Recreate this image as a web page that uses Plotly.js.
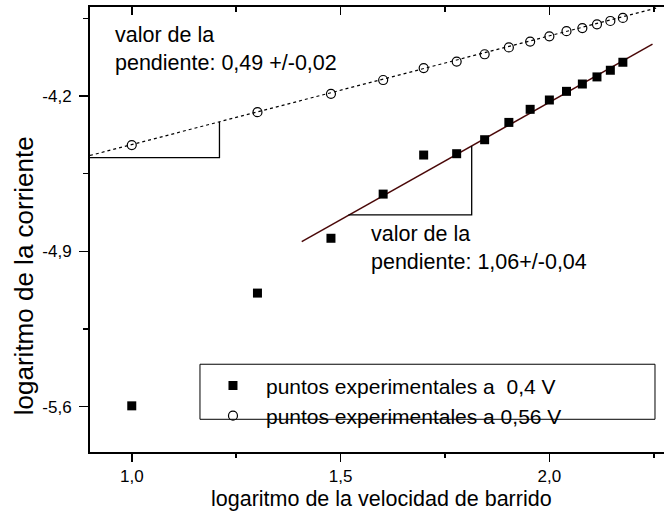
<!DOCTYPE html>
<html>
<head>
<meta charset="utf-8">
<script src="https://cdn.plot.ly/plotly-3.0.1.min.js"></script>
<style>
  html, body { margin: 0; padding: 0; background: #ffffff; }
  #chart { width: 664px; height: 515px; }
</style>
</head>
<body>
<div id="chart"></div>
<script>
// log10 of the scan rate (10 ... 150 mV/s)
const logRate = [1.000, 1.301, 1.477, 1.602, 1.699, 1.778, 1.845, 1.903, 1.954, 2.000, 2.041, 2.079, 2.114, 2.146, 2.176];
// log10 of the current measured at 0,4 V
const logCurrent04 = [-5.596, -5.088, -4.841, -4.642, -4.466, -4.460, -4.397, -4.319, -4.260, -4.218, -4.179, -4.146, -4.114, -4.084, -4.048];
// log10 of the current measured at 0,56 V
const logCurrent056 = [-4.421, -4.273, -4.190, -4.128, -4.074, -4.045, -4.012, -3.981, -3.955, -3.931, -3.908, -3.894, -3.877, -3.862, -3.848];

// straight-line fits: [0,4 V, 0,56 V]
const fitSlope = [1.06, 0.49];
const fitIntercept = [-6.348, -4.909];
const fitXStart = [1.407, 0.90];
const fitXEnd = [2.247, 2.26];

// slope triangles drawn under each fit
const triXStart = [1.519, 0.90];
const triXEnd = [1.814, 1.21];
const triBaseY = [-4.736, -4.478];

// axis ticks
const xTickVals = [1.0, 1.5, 2.0];
const xTickText = ['1,0', '1,5', '2,0'];
const xMinorVals = [1.25, 1.75, 2.25];
const yTickVals = [-5.6, -4.9, -4.2];
const yTickText = ['-5,6', '-4,9', '-4,2'];
const yMinorVals = [-5.25, -4.55, -3.85];

const legendNames = ['puntos experimentales a  0,4 V', 'puntos experimentales a 0,56 V'];
const slopeLabels = ['valor de la<br>pendiente: 1,06+/-0,04', 'valor de la<br>pendiente: 0,49 +/-0,02'];

const FONT = 'Liberation Sans, Arial, Helvetica, sans-serif';
const fitY = (i, x) => fitIntercept[i] + fitSlope[i] * x;

const traces = [];

// fitted lines
traces.push({
  x: [fitXStart[0], fitXEnd[0]],
  y: [fitY(0, fitXStart[0]), fitY(0, fitXEnd[0])],
  mode: 'lines', type: 'scatter', showlegend: false, hoverinfo: 'skip',
  line: { color: '#4a0808', width: 1.5 }
});
traces.push({
  x: [fitXStart[1], fitXEnd[1]],
  y: [fitY(1, fitXStart[1]), fitY(1, fitXEnd[1])],
  xaxis: 'x2', yaxis: 'y',
  mode: 'lines', type: 'scatter', showlegend: false, hoverinfo: 'skip',
  line: { color: '#000000', width: 1.2, dash: 'dot' }
});

// slope triangles (base along x, rise up to the fit line)
for (let i = 0; i < 2; i++) {
  traces.push({
    x: [triXStart[i], triXEnd[i], triXEnd[i]],
    y: [triBaseY[i], triBaseY[i], fitY(i, triXEnd[i])],
    mode: 'lines', type: 'scatter', showlegend: false, hoverinfo: 'skip',
    line: { color: '#000000', width: 1.3 }
  });
}

// measured points
traces.push({
  x: logRate, y: logCurrent04, name: legendNames[0],
  mode: 'markers', type: 'scatter',
  marker: { symbol: 'square', size: 9, color: '#000000' }
});
traces.push({
  x: logRate, y: logCurrent056, name: legendNames[1],
  mode: 'markers', type: 'scatter',
  marker: { symbol: 'circle-open', size: 9, color: '#000000', line: { width: 1.2, color: '#000000' } }
});

const axisCommon = {
  showgrid: false, zeroline: false, showline: true,
  linecolor: '#000000', linewidth: 2,
  tickcolor: '#000000', tickwidth: 1.5,
  tickfont: { family: FONT, size: 17, color: '#000000' }
};

const layout = {
  width: 664, height: 515,
  margin: { l: 90, r: 0, t: 7, b: 63, pad: 0 },
  paper_bgcolor: '#ffffff', plot_bgcolor: '#ffffff',
  font: { family: FONT, color: '#000000' },
  showlegend: true,
  xaxis: Object.assign({}, axisCommon, {
    range: [0.9, 2.2745], side: 'bottom',
    ticks: 'outside', ticklen: 8,
    tickmode: 'array', tickvals: xTickVals, ticktext: xTickText,
    minor: { tickmode: 'array', tickvals: xMinorVals, ticks: 'outside', ticklen: 4, tickwidth: 1.5, tickcolor: '#000000' },
    ticklabelstandoff: 0
  }),
  xaxis2: Object.assign({}, axisCommon, {
    overlaying: 'x', matches: 'x', side: 'top', anchor: 'y',
    ticks: 'inside', ticklen: 8, showticklabels: false,
    tickmode: 'array', tickvals: xTickVals,
    minor: { tickmode: 'array', tickvals: xMinorVals, ticks: 'inside', ticklen: 5, tickwidth: 1.5, tickcolor: '#000000' }
  }),
  yaxis: Object.assign({}, axisCommon, {
    range: [-5.804, -3.799],
    ticks: 'outside', ticklen: 9,
    tickmode: 'array', tickvals: yTickVals, ticktext: yTickText,
    minor: { tickmode: 'array', tickvals: yMinorVals, ticks: 'outside', ticklen: 5, tickwidth: 1.5, tickcolor: '#000000' },
    ticklabelstandoff: 4
  }),
  legend: {
    x: 0.1916, y: 0.195, xanchor: 'left', yanchor: 'top',
    bgcolor: 'rgba(0,0,0,0)', borderwidth: 0,
    font: { family: FONT, size: 21, color: '#000000' },
    itemwidth: 56, tracegroupgap: 0
  },
  shapes: [{
    type: 'rect', xref: 'paper', yref: 'paper',
    x0: 0.1916, x1: 0.9843, y0: 0.0735, y1: 0.1972,
    line: { color: '#000000', width: 1 }, fillcolor: 'rgba(0,0,0,0)', layer: 'below'
  }],
  annotations: [
    {
      text: slopeLabels[1], xref: 'x', yref: 'y', x: 0.955, y: -3.986,
      xanchor: 'left', yanchor: 'middle', align: 'left', showarrow: false,
      font: { family: FONT, size: 21.5, color: '#000000' }
    },
    {
      text: slopeLabels[0], xref: 'x', yref: 'y', x: 1.569, y: -4.887,
      xanchor: 'left', yanchor: 'middle', align: 'left', showarrow: false,
      font: { family: FONT, size: 21.5, color: '#000000' }
    },
    {
      text: 'logaritmo de la velocidad de barrido', xref: 'paper', yref: 'paper',
      x: 0.5087, y: -0.1056, xanchor: 'center', yanchor: 'middle', showarrow: false,
      font: { family: FONT, size: 21.5, color: '#000000' }
    },
    {
      text: 'logaritmo de la corriente', xref: 'paper', yref: 'paper',
      x: -0.115, y: 0.3973, xanchor: 'center', yanchor: 'middle', showarrow: false,
      textangle: -90,
      font: { family: FONT, size: 26, color: '#000000' }
    }
  ]
};

Plotly.newPlot('chart', traces, layout, { displayModeBar: false, staticPlot: true });
</script>
</body>
</html>
